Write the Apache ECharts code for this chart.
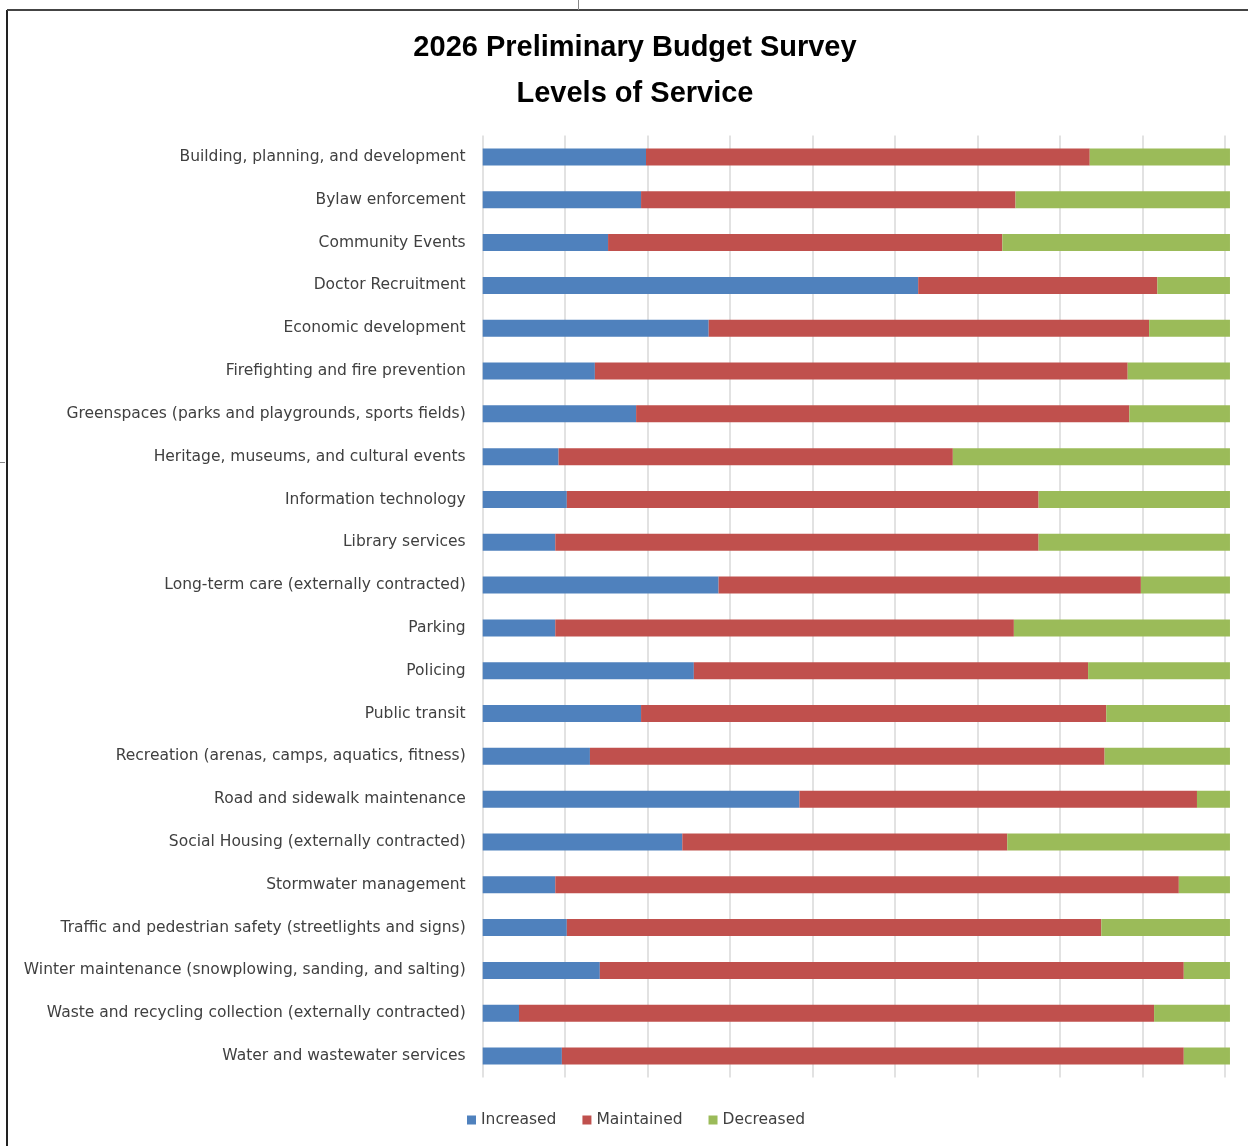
<!DOCTYPE html>
<html>
<head>
<meta charset="utf-8">
<script src="https://cdn.jsdelivr.net/npm/echarts@6/dist/echarts.min.js"></script>
<style>
html,body{margin:0;padding:0;background:#fff;}
#chart{width:1248px;height:1146px;}
</style>
</head>
<body>
<div id="chart"></div>
<script>
const categories = [
  "Building, planning, and development",
  "Bylaw enforcement",
  "Community Events",
  "Doctor Recruitment",
  "Economic development",
  "Firefighting and fire prevention",
  "Greenspaces (parks and playgrounds, sports fields)",
  "Heritage, museums, and cultural events",
  "Information technology",
  "Library services",
  "Long-term care (externally contracted)",
  "Parking",
  "Policing",
  "Public transit",
  "Recreation (arenas, camps, aquatics, fitness)",
  "Road and sidewalk maintenance",
  "Social Housing (externally contracted)",
  "Stormwater management",
  "Traffic and pedestrian safety (streetlights and signs)",
  "Winter maintenance (snowplowing, sanding, and salting)",
  "Waste and recycling collection (externally contracted)",
  "Water and wastewater services"
];
const increased  = [99, 96, 76, 264, 137, 68, 93, 46, 51, 44, 143, 44, 128, 96, 65, 192, 121, 44, 51, 71, 22, 48];
const maintained = [269, 227, 239, 145, 267, 323, 299, 239, 286, 293, 256, 278, 239, 282, 312, 241, 197, 378, 324, 354, 385, 377];
const decreased  = [85, 130, 138, 44, 49, 62, 61, 168, 116, 116, 54, 131, 86, 75, 76, 20, 135, 31, 78, 28, 46, 28];
const seriesNames = ["Increased", "Maintained", "Decreased"];
const seriesColors = ["#4f81bd", "#c0504d", "#9bbb59"];

const chart = echarts.init(document.getElementById('chart'), null, {renderer: 'canvas'});
const values = [increased, maintained, decreased];
const option = {
  backgroundColor: '#ffffff',
  animation: false,
  title: {
    text: '2026 Preliminary Budget Survey\nLevels of Service',
    left: 630,
    textAlign: 'center',
    top: 20,
    textStyle: {
      fontFamily: 'Liberation Sans',
      fontWeight: 'bold',
      fontSize: 29,
      lineHeight: 46,
      color: '#000000'
    }
  },
  legend: {
    data: seriesNames,
    top: 1107,
    left: 462,
    icon: 'rect',
    itemWidth: 9,
    itemHeight: 9,
    itemGap: 26,
    textStyle: {fontFamily: 'DejaVu Sans', fontSize: 15.5, color: '#404040'}
  },
  grid: {
    left: 482.7,
    top: 135.6,
    width: 824.8,
    height: 941.8,
    containLabel: false,
    outerBoundsMode: 'none'
  },
  xAxis: {
    type: 'value',
    min: 0,
    max: 500,
    interval: 50,
    axisLabel: {show: false},
    axisLine: {show: false},
    axisTick: {show: false},
    splitLine: {show: true, lineStyle: {color: '#d9d9d9', width: 1.5}}
  },
  yAxis: {
    type: 'category',
    data: categories,
    inverse: true,
    axisLine: {show: false},
    axisTick: {show: false},
    axisLabel: {
      margin: 17,
      padding: [3, 0, 0, 0],
      fontFamily: 'DejaVu Sans',
      fontSize: 15.5,
      color: '#404040'
    }
  },
  series: seriesNames.map((name, i) => ({
    name: name,
    type: 'bar',
    stack: 'total',
    barWidth: 17,
    itemStyle: {color: seriesColors[i]},
    data: values[i]
  })),
  graphic: [
    {type: 'line', shape: {x1: 7, y1: 10, x2: 7, y2: 1146}, style: {stroke: '#222', lineWidth: 2}},
    {type: 'line', shape: {x1: 7, y1: 10, x2: 1248, y2: 10}, style: {stroke: '#444', lineWidth: 2}},
    {type: 'line', shape: {x1: 578.5, y1: 0, x2: 578.5, y2: 10}, style: {stroke: '#888', lineWidth: 1}},
    {type: 'line', shape: {x1: 0, y1: 462.5, x2: 5, y2: 462.5}, style: {stroke: '#888', lineWidth: 1}}
  ]
};
chart.setOption(option);
</script>
</body>
</html>
